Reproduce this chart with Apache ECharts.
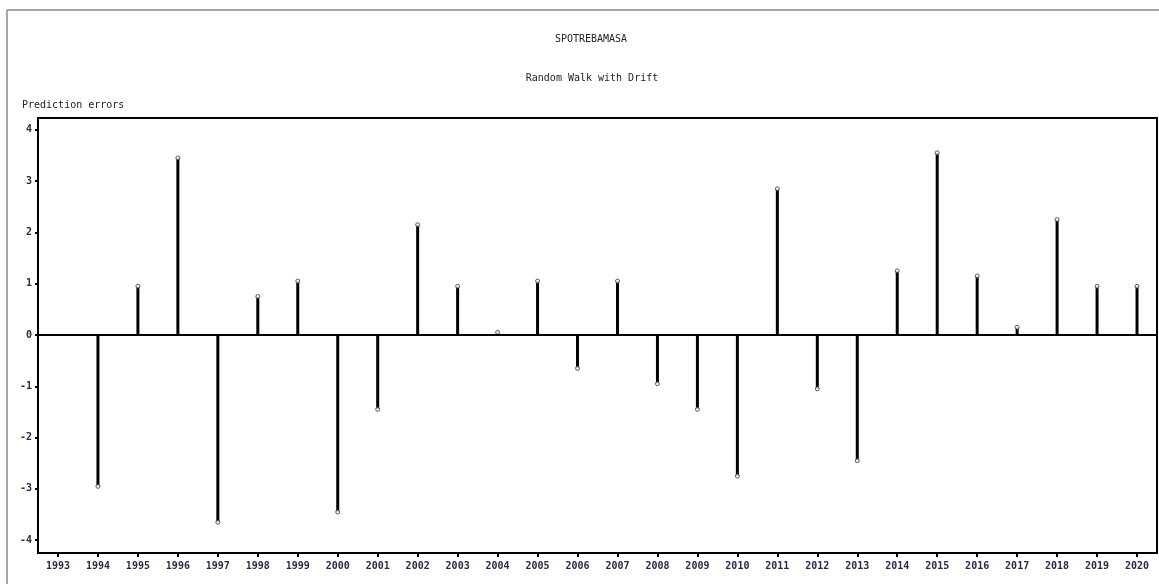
<!DOCTYPE html>
<html>
<head>
<meta charset="utf-8">
<title>SPOTREBAMASA</title>
<script src="https://cdn.jsdelivr.net/npm/echarts@6/dist/echarts.min.js"></script>
<style>
  html, body { margin: 0; padding: 0; background: #fff; }
  #myChart { width: 1159px; height: 584px; }
</style>
</head>
<body>
<div id="myChart"></div>
<script>
// years on the x axis
var years = ["1993", "1994", "1995", "1996", "1997", "1998", "1999", "2000", "2001", "2002",
  "2003", "2004", "2005", "2006", "2007", "2008", "2009", "2010", "2011", "2012",
  "2013", "2014", "2015", "2016", "2017", "2018", "2019", "2020"];
// prediction errors (no value for 1993)
var errors = ["-", -2.95, 0.95, 3.45, -3.65, 0.75, 1.05, -3.45, -1.45, 2.15,
  0.95, 0.05, 1.05, -0.65, 1.05, -0.95, -1.45, -2.75, 2.85, -1.05,
  -2.45, 1.25, 3.55, 1.15, 0.15, 2.25, 0.95, 0.95];
var yTicks = [-4, -3, -2, -1, 0, 1, 2, 3, 4];

var mono = "DejaVu Sans Mono";
var myChart = echarts.init(document.getElementById("myChart"));
var option = {
  animation: false,
  backgroundColor: "#fff",
  title: [
    {
      text: "SPOTREBAMASA",
      left: 586, top: 29, textAlign: "center",
      textStyle: { fontFamily: mono, fontSize: 10, fontWeight: "normal", color: "#222" }
    },
    {
      text: "Random Walk with Drift",
      left: 587, top: 68, textAlign: "center",
      textStyle: { fontFamily: mono, fontSize: 10, fontWeight: "normal", color: "#222" }
    },
    {
      text: "Prediction errors",
      left: 17, top: 95,
      textStyle: { fontFamily: mono, fontSize: 10, fontWeight: "normal", color: "#222" }
    }
  ],
  graphic: [
    // outer frame (top and left edges only)
    { type: "line", shape: { x1: 7, y1: 10, x2: 1159, y2: 10 }, style: { stroke: "#888", lineWidth: 1.5 } },
    { type: "line", shape: { x1: 7, y1: 10, x2: 7, y2: 584 }, style: { stroke: "#888", lineWidth: 1.5 } }
  ],
  grid: {
    left: 38, top: 118, right: 2, bottom: 31,
    show: true, borderColor: "#000", borderWidth: 2, backgroundColor: "transparent"
  },
  xAxis: {
    type: "category",
    data: years,
    boundaryGap: true,
    axisLine: { show: true, onZero: false, lineStyle: { color: "#000", width: 2 } },
    axisTick: { show: true, alignWithLabel: true, length: 4, lineStyle: { color: "#000", width: 2 } },
    axisLabel: { fontFamily: mono, fontSize: 10, fontWeight: "bold", color: "#2a2a48", margin: 8 },
    splitLine: { show: false }
  },
  yAxis: {
    type: "value",
    min: -4.25, max: 4.23,
    axisLine: { show: true, lineStyle: { color: "#000", width: 2 } },
    axisTick: { show: true, length: 3, customValues: yTicks, lineStyle: { color: "#000", width: 2 } },
    axisLabel: { fontFamily: mono, fontSize: 10, fontWeight: "bold", color: "#2a2a48", margin: 6, customValues: yTicks },
    splitLine: { show: false }
  },
  series: [
    {
      type: "bar",
      data: errors,
      barWidth: 3,
      itemStyle: { color: "#000" },
      markLine: {
        silent: true,
        symbol: "none",
        label: { show: false },
        lineStyle: { color: "#000", width: 2, type: "solid" },
        data: [{ yAxis: 0 }]
      }
    },
    {
      type: "scatter",
      data: errors,
      symbol: "circle",
      symbolSize: 4,
      itemStyle: { color: "#fff", borderColor: "#333", borderWidth: 1 },
      z: 3
    }
  ]
};
myChart.setOption(option);
window.onresize = myChart.resize;
</script>
</body>
</html>
